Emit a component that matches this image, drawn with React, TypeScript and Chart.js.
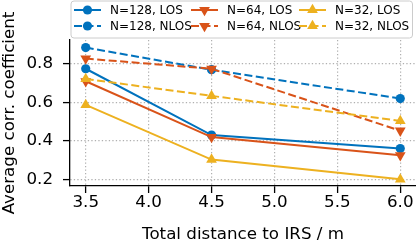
import React, { useEffect, useRef } from 'react';
import { Chart, registerables } from 'chart.js';

Chart.register(...registerables);

const FONT = "'DejaVu Sans', sans-serif";

const xValues = [3.5, 4.5, 6.0];
const n128Los = [0.775, 0.43, 0.36];
const n128Nlos = [0.885, 0.77, 0.62];
const n64Los = [0.71, 0.42, 0.325];
const n64Nlos = [0.828, 0.775, 0.453];
const n32Los = [0.587, 0.303, 0.2];
const n32Nlos = [0.722, 0.634, 0.504];

const xTicks = [3.5, 4.0, 4.5, 5.0, 5.5, 6.0];
const yTicks = [0.2, 0.4, 0.6, 0.8];

const BLUE = '#0072BD';
const ORANGE = '#D95319';
const YELLOW = '#EDB120';

type SeriesDef = {
  label: string;
  values: number[];
  color: string;
  marker: 'circle' | 'triangle';
  rotation: number;
  dashed: boolean;
  col: number;
  row: number;
};

const series: SeriesDef[] = [
  { label: 'N=128, LOS', values: n128Los, color: BLUE, marker: 'circle', rotation: 0, dashed: false, col: 0, row: 0 },
  { label: 'N=128, NLOS', values: n128Nlos, color: BLUE, marker: 'circle', rotation: 0, dashed: true, col: 0, row: 1 },
  { label: 'N=64, LOS', values: n64Los, color: ORANGE, marker: 'triangle', rotation: 180, dashed: false, col: 1, row: 0 },
  { label: 'N=64, NLOS', values: n64Nlos, color: ORANGE, marker: 'triangle', rotation: 180, dashed: true, col: 1, row: 1 },
  { label: 'N=32, LOS', values: n32Los, color: YELLOW, marker: 'triangle', rotation: 0, dashed: false, col: 2, row: 0 },
  { label: 'N=32, NLOS', values: n32Nlos, color: YELLOW, marker: 'triangle', rotation: 0, dashed: true, col: 2, row: 1 },
];

const CIRCLE_R = 4.6;
const TRI_R = 6.2;
const LINE_W = 2;
const DASH = [8, 3.5];

function drawMarker(ctx: CanvasRenderingContext2D, s: SeriesDef, x: number, y: number) {
  ctx.save();
  ctx.fillStyle = s.color;
  ctx.beginPath();
  if (s.marker === 'circle') {
    ctx.arc(x, y, CIRCLE_R, 0, Math.PI * 2);
  } else {
    let rad = (s.rotation * Math.PI) / 180;
    const step = (2 * Math.PI) / 3;
    ctx.moveTo(x + Math.sin(rad) * TRI_R, y - Math.cos(rad) * TRI_R);
    rad += step;
    ctx.lineTo(x + Math.sin(rad) * TRI_R, y - Math.cos(rad) * TRI_R);
    rad += step;
    ctx.lineTo(x + Math.sin(rad) * TRI_R, y - Math.cos(rad) * TRI_R);
    ctx.closePath();
  }
  ctx.fill();
  ctx.restore();
}

const legendTextX = [110, 227, 335];
const legendRowY = [10, 26];

const legendPlugin = {
  id: 'mplLegend',
  afterDraw(chart: any) {
    const ctx: CanvasRenderingContext2D = chart.ctx;
    ctx.save();
    const bx = 71, by = 1, bw = 341.5, bh = 37, r = 3;
    ctx.beginPath();
    ctx.moveTo(bx + r, by);
    ctx.lineTo(bx + bw - r, by);
    ctx.arcTo(bx + bw, by, bx + bw, by + r, r);
    ctx.lineTo(bx + bw, by + bh - r);
    ctx.arcTo(bx + bw, by + bh, bx + bw - r, by + bh, r);
    ctx.lineTo(bx + r, by + bh);
    ctx.arcTo(bx, by + bh, bx, by + bh - r, r);
    ctx.lineTo(bx, by + r);
    ctx.arcTo(bx, by, bx + r, by, r);
    ctx.closePath();
    ctx.fillStyle = 'rgba(255,255,255,0.8)';
    ctx.fill();
    ctx.strokeStyle = '#cccccc';
    ctx.lineWidth = 1;
    ctx.stroke();

    ctx.font = `12px ${FONT}`;
    ctx.textBaseline = 'middle';
    ctx.textAlign = 'left';
    series.forEach((s) => {
      const tx = legendTextX[s.col];
      const y = legendRowY[s.row];
      ctx.save();
      ctx.strokeStyle = s.color;
      ctx.lineWidth = LINE_W;
      ctx.setLineDash(s.dashed ? DASH : []);
      ctx.beginPath();
      ctx.moveTo(tx - 36, y);
      ctx.lineTo(tx - 9, y);
      ctx.stroke();
      ctx.restore();
      drawMarker(ctx, s, tx - 22.5, y);
      ctx.fillStyle = '#000';
      ctx.fillText(s.label, tx, y + 0.5);
    });
    ctx.restore();
  },
};

export default function App() {
  const ref = useRef<HTMLCanvasElement | null>(null);

  useEffect(() => {
    document.body.style.margin = '0';
    if (!ref.current) return;
    Chart.defaults.font.family = FONT;

    const datasets = series.map((s, i) => ({
      label: s.label,
      data: xValues.map((x, j) => ({ x, y: s.values[j] })),
      borderColor: s.color,
      backgroundColor: s.color,
      borderWidth: LINE_W,
      borderDash: s.dashed ? DASH : [],
      pointStyle: s.marker,
      pointRotation: s.rotation,
      pointRadius: s.marker === 'circle' ? CIRCLE_R : TRI_R,
      pointBorderWidth: 0,
      pointBackgroundColor: s.color,
      pointBorderColor: s.color,
      tension: 0,
      clip: false,
      order: series.length - i,
    }));

    const tickFont = { family: FONT, size: 16.7 };

    const chart = new Chart(ref.current, {
      type: 'line',
      data: { datasets },
      options: {
        animation: false,
        responsive: false,
        events: [],
        layout: { autoPadding: false, padding: { top: 40, right: 0, left: 0, bottom: 0 } },
        plugins: { legend: { display: false }, tooltip: { enabled: false } },
        scales: {
          x: {
            type: 'linear',
            min: 3.375,
            max: 6.125,
            afterBuildTicks: (s: any) => {
              s.ticks = xTicks.map((v) => ({ value: v }));
            },
            afterFit: (s: any) => {
              s.height = 60;
              s.paddingLeft = 0;
              s.paddingRight = 0;
              s.paddingTop = 0;
              s.paddingBottom = 0;
            },
            ticks: {
              font: tickFont,
              color: '#000',
              padding: 0,
              maxRotation: 0,
              autoSkip: false,
              callback: (v: any) => Number(v).toFixed(1),
            },
            grid: {
              color: '#b0b0b0',
              lineWidth: 1.2,
              tickLength: 7,
              tickColor: '#000',
              tickWidth: 1.3,
            },
            border: { display: true, color: '#000', width: 1.3, dash: [1.3, 2.2] },
            title: {
              display: true,
              text: 'Total distance to IRS / m',
              color: '#000',
              font: tickFont,
              padding: { top: 0, bottom: 1 },
            },
          },
          y: {
            type: 'linear',
            min: 0.1655,
            max: 0.9245,
            afterBuildTicks: (s: any) => {
              s.ticks = yTicks.map((v) => ({ value: v }));
            },
            afterFit: (s: any) => {
              s.width = 70;
              s.paddingLeft = 0;
              s.paddingRight = 0;
              s.paddingTop = 0;
              s.paddingBottom = 0;
            },
            ticks: {
              font: tickFont,
              color: '#000',
              padding: 10,
              autoSkip: false,
              callback: (v: any) => Number(v).toFixed(1),
            },
            grid: {
              color: '#b0b0b0',
              lineWidth: 1.2,
              tickLength: 7,
              tickColor: '#000',
              tickWidth: 1.3,
            },
            border: { display: true, color: '#000', width: 1.3, dash: [1.3, 2.2] },
            title: {
              display: true,
              text: 'Average corr. coefficient',
              color: '#000',
              font: tickFont,
              padding: { top: 0, bottom: 0 },
            },
          },
        },
      },
      plugins: [legendPlugin],
    });

    return () => chart.destroy();
  }, []);

  return (
    <div style={{ width: 416, height: 246 }}>
      <canvas ref={ref} width={416} height={246} style={{ display: 'block' }} />
    </div>
  );
}
